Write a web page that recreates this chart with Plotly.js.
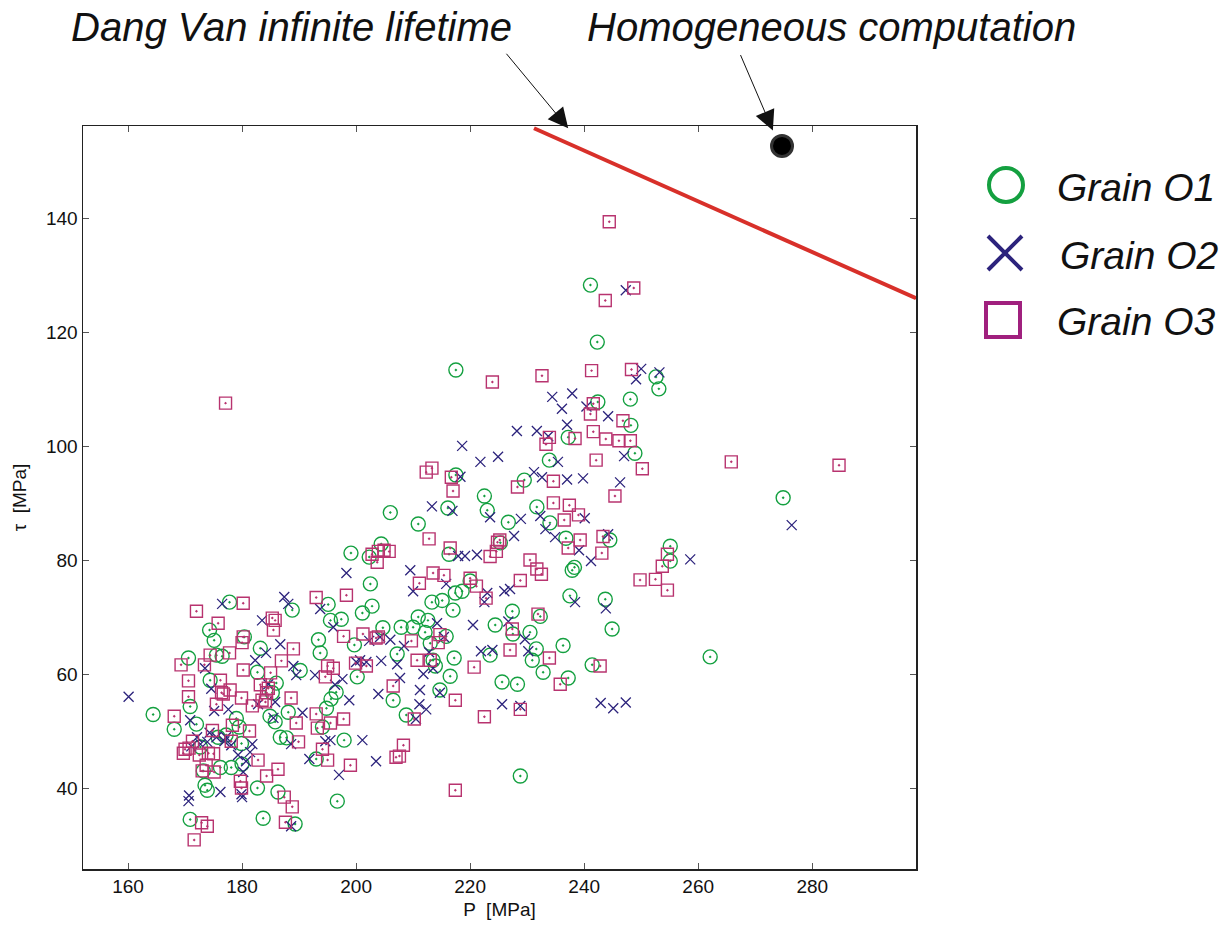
<!DOCTYPE html>
<html>
<head>
<meta charset="utf-8">
<script src="https://cdn.plot.ly/plotly-3.0.1.min.js"></script>
<style>html,body{margin:0;padding:0;background:#fff;}#chart{width:1229px;height:927px;}</style>
</head>
<body>
<div id="chart"></div>
<script>
// Grain O1 (green circles)
const o1P = [164.4,168.1,170.6,170.9,170.9,172.0,172.7,173.2,173.5,173.9,174.3,174.4,175.1,175.5,175.8,176.2,176.5,177.2,177.8,178.1,179.0,179.5,179.9,180.0,180.4,182.7,182.7,183.2,183.7,184.9,185.3,185.8,186.0,186.3,186.7,187.8,188.1,188.8,189.3,190.2,193.0,193.4,193.7,194.1,194.8,195.1,195.5,195.6,196.5,196.7,197.4,197.9,199.1,199.7,200.2,201.1,202.3,202.5,202.8,204.4,204.7,206.0,206.5,207.2,207.9,208.8,210.0,210.9,210.9,212.1,212.6,213.0,213.3,213.5,213.9,214.7,215.1,215.8,216.1,216.3,216.5,217.0,217.2,217.4,217.5,217.5,218.6,220.0,222.5,223.0,223.5,224.4,225.3,225.6,226.7,227.4,227.5,228.3,228.8,229.5,230.5,230.9,231.6,231.7,232.3,232.8,233.9,234.0,236.3,236.8,237.2,237.2,237.5,237.9,238.3,241.1,241.4,242.3,242.4,243.7,244.5,244.9,248.1,248.2,248.9,252.6,253.1,255.1,255.1,262.1,274.9];
const o1Tau = [53.0,50.4,62.9,54.4,34.6,51.3,47.3,43.1,40.6,39.7,67.8,59.0,66.0,63.4,49.0,43.7,63.2,49.4,72.7,43.7,52.3,50.8,47.9,44.3,66.6,40.1,60.4,64.6,34.8,52.7,56.8,51.7,58.5,39.4,49.0,48.9,53.4,71.3,33.8,60.7,45.2,66.1,63.8,50.8,54.1,72.3,69.5,55.7,56.9,37.8,69.7,48.5,81.3,65.2,59.6,70.8,80.6,75.9,72.0,82.9,68.2,88.4,55.5,63.6,68.3,52.9,68.3,86.4,70.1,67.4,69.5,65.5,72.7,62.5,61.5,57.3,73.0,66.7,89.2,81.1,59.7,71.3,62.9,74.3,95.0,113.4,74.6,76.4,91.3,88.8,63.4,68.7,83.1,58.7,86.7,71.1,67.1,58.3,42.2,94.1,67.4,62.5,64.5,89.4,70.2,60.4,97.6,86.6,65.1,83.9,101.6,59.4,73.8,78.3,78.8,128.3,61.7,118.3,107.8,73.2,83.6,68.0,108.3,103.7,98.8,112.2,110.1,82.5,79.9,63.1,91.0];

// Grain O2 (navy crosses)
const o2P = [160.1,170.6,170.7,170.9,171.1,172.1,172.7,173.5,173.9,174.3,174.6,175.1,175.5,176.2,176.5,176.9,177.2,177.6,178.1,179.3,179.9,180.0,180.2,180.7,181.4,181.8,182.3,182.8,183.5,184.2,184.6,185.5,185.8,186.7,187.4,188.1,188.6,188.6,189.0,189.5,190.6,191.8,192.8,193.7,194.6,195.5,196.0,196.3,197.0,197.6,198.3,198.8,200.0,200.7,201.1,201.8,202.3,203.5,203.9,204.2,204.4,206.0,207.2,207.7,208.4,209.5,210.0,210.5,211.1,211.2,211.8,212.3,212.8,213.3,213.5,214.2,214.7,215.4,215.8,216.9,217.9,218.3,218.6,219.1,220.5,221.2,221.8,221.9,222.5,223.0,223.5,223.9,224.9,225.6,226.0,226.7,227.0,227.7,228.2,228.8,228.9,229.6,230.2,231.2,231.7,232.3,232.6,233.2,233.7,234.4,234.9,235.4,236.1,237.0,237.0,237.9,238.4,239.1,239.8,240.1,240.4,241.2,242.9,243.8,244.2,244.2,245.1,246.3,247.0,247.3,247.3,249.1,250.0,253.2,258.6,276.4];
const o2Tau = [56.1,37.8,38.8,52.0,47.4,49.0,47.8,61.1,48.2,49.8,57.5,53.6,49.0,39.4,72.4,48.3,49.0,53.9,47.6,45.9,39.0,38.5,42.9,44.8,46.4,47.8,62.5,54.8,69.5,63.8,58.3,52.4,55.2,65.3,73.6,72.4,33.4,47.8,61.5,59.9,53.3,45.2,59.9,71.5,48.3,48.5,68.3,58.2,42.4,59.2,77.8,55.5,62.2,62.5,48.5,62.2,65.9,44.8,56.6,66.6,62.4,66.1,61.8,59.4,65.0,78.3,74.6,52.2,54.8,57.3,60.1,53.9,63.9,89.5,61.1,69.0,56.8,66.6,75.9,88.7,80.8,94.7,100.1,80.8,68.7,81.0,97.3,64.1,72.7,74.3,87.6,64.3,98.2,54.8,74.6,69.3,75.0,84.3,102.7,54.5,87.3,66.2,64.1,95.5,102.7,87.8,94.6,85.5,101.8,108.7,84.1,97.3,106.6,94.2,103.8,109.3,72.7,81.8,94.4,87.4,107.0,79.9,55.0,71.6,84.6,105.3,54.1,93.7,98.3,55.1,127.4,111.8,113.6,113.0,80.2,86.2];

// Grain O3 (purple squares)
const o3P = [170.6,168.1,169.3,169.7,170.0,170.6,170.7,171.3,171.6,172.0,172.5,173.0,173.4,173.7,173.9,172.9,174.1,174.4,174.8,175.0,175.1,175.5,175.8,176.2,176.4,176.7,177.1,177.8,177.9,178.1,178.3,179.7,179.9,180.2,179.9,180.0,180.2,180.2,181.3,181.8,182.8,183.2,183.5,184.1,184.3,184.3,184.6,185.0,185.3,185.5,185.8,186.3,186.9,187.4,187.6,188.6,188.8,189.0,189.5,189.9,193.0,193.0,193.2,194.1,194.6,195.0,195.0,195.5,196.0,197.8,197.8,198.3,199.0,199.9,201.2,201.8,202.8,203.5,203.7,203.9,203.9,204.9,205.8,206.5,207.0,207.6,208.3,209.7,210.2,210.7,211.1,212.3,212.8,213.0,213.3,213.5,214.4,214.7,215.4,216.5,216.7,217.0,217.4,217.4,220.0,220.7,221.1,222.5,222.8,223.5,223.9,224.6,224.8,225.2,227.0,227.4,228.3,228.8,228.8,230.5,231.7,231.9,232.5,232.6,233.3,233.9,233.9,234.6,234.6,235.8,236.5,237.2,237.4,238.4,239.0,239.3,241.1,241.6,241.6,242.1,242.8,243.1,243.3,243.8,245.4,246.1,246.8,248.3,248.1,249.8,250.2,252.5,253.7,254.6,254.6,265.8,284.7,244.4,243.7,248.7,241.3];
const o3Tau = [58.9,52.7,61.7,46.2,46.9,56.1,47.1,48.3,31.0,71.1,45.9,43.1,61.7,44.1,33.4,34.0,46.2,63.4,50.2,46.1,42.9,54.8,69.0,59.0,56.8,56.6,107.6,63.8,57.3,48.3,51.1,41.3,40.1,72.5,55.9,65.6,66.6,60.8,50.1,54.5,45.0,58.2,55.5,55.2,56.8,42.2,57.6,60.3,69.9,67.8,69.5,43.4,62.4,38.5,34.1,55.9,36.8,64.5,51.5,48.2,53.1,73.5,50.6,46.9,59.6,61.5,45.0,51.5,61.1,66.7,52.2,73.9,44.1,62.0,67.1,61.5,81.1,66.4,79.7,81.6,66.6,81.8,81.6,58.0,45.5,45.7,47.6,65.9,52.2,62.5,76.0,95.5,83.8,62.5,96.2,77.8,65.6,67.0,77.4,82.2,94.6,92.2,55.5,39.7,76.9,61.3,75.5,52.6,73.4,80.7,111.3,81.6,83.2,83.6,64.3,68.0,92.9,76.5,53.9,80.1,78.5,70.6,77.6,112.4,100.4,101.6,62.9,90.1,93.9,58.3,87.1,82.2,89.7,101.4,88.0,83.6,105.7,102.6,107.5,97.6,61.5,81.3,84.2,101.3,91.3,101.0,104.5,113.5,101.0,76.6,96.1,76.7,79.0,81.1,74.8,97.3,96.7,139.4,125.6,127.8,113.3];

// Dang Van infinite lifetime line and homogeneous computation
const dangVanP = [231.2, 298.2];
const dangVanTau = [155.8, 126.0];
const homP = [274.7];
const homTau = [152.7];

const xTicks = [160,180,200,220,240,260,280];
const yTicks = [40,60,80,100,120,140];

const cGreen = '#14a040', cNavy = '#2c237c', cPurple = '#b8336f';

const traces = [
  {x:o1P, y:o1Tau, type:'scatter', mode:'markers', name:'Grain O1',
   marker:{symbol:'circle-open-dot', size:14, color:cGreen, line:{width:1.4, color:cGreen}}},
  {x:o2P, y:o2Tau, type:'scatter', mode:'markers', name:'Grain O2',
   marker:{symbol:'x-thin-open', size:10, color:cNavy, line:{width:1.3, color:cNavy}}},
  {x:o3P, y:o3Tau, type:'scatter', mode:'markers', name:'Grain O3',
   marker:{symbol:'square-open-dot', size:12, color:cPurple, line:{width:1.4, color:cPurple}}},
  {x:dangVanP, y:dangVanTau, type:'scatter', mode:'lines', name:'Dang Van',
   line:{color:'#d8302a', width:4}},
  {x:homP, y:homTau, type:'scatter', mode:'markers', name:'Homogeneous',
   marker:{symbol:'circle', size:21, color:'#000', line:{width:3, color:'#333'}}}
];

const fontFam = 'Liberation Sans, Arial, Helvetica, sans-serif';
const L = 83, R = 916, T = 126, B = 869;
const px = v => (v - L) / (R - L);
const py = v => (B - v) / (B - T);

const legendItems = [
  {name:'Grain O1', ty:188, tx:1055},
  {name:'Grain O2', ty:255, tx:1058},
  {name:'Grain O3', ty:321, tx:1055}
];

const shapes = [
  {type:'circle', xref:'paper', yref:'paper', xsizemode:'pixel', ysizemode:'pixel',
   xanchor:px(1006), yanchor:py(185), x0:-17, x1:17, y0:-17, y1:17,
   line:{color:cGreen, width:4}},
  {type:'path', xref:'paper', yref:'paper', xsizemode:'pixel', ysizemode:'pixel',
   xanchor:px(1005), yanchor:py(253), path:'M-17,-17L17,17M-17,17L17,-17',
   line:{color:cNavy, width:4}},
  {type:'rect', xref:'paper', yref:'paper', xsizemode:'pixel', ysizemode:'pixel',
   xanchor:px(1003), yanchor:py(320), x0:-17, x1:17, y0:-17, y1:17,
   line:{color:'#a0207e', width:4}}
];

const annotations = [
  {text:'Dang Van infinite lifetime', xref:'paper', yref:'paper', x:px(291), y:py(27),
   xanchor:'center', yanchor:'middle',
   showarrow:false, font:{family:fontFam, size:40, color:'#111', style:'italic'}},
  {text:'Homogeneous computation', xref:'paper', yref:'paper', x:px(831), y:py(27),
   xanchor:'center', yanchor:'middle',
   showarrow:false, font:{family:fontFam, size:40, color:'#111', style:'italic'}},
  {text:'', x:237.2, y:155.8, xref:'x', yref:'y', ax:-63, ay:-76, showarrow:true,
   arrowhead:2, arrowsize:4, arrowwidth:1, arrowcolor:'#111', standoff:0},
  {text:'', x:273.1, y:155.4, xref:'x', yref:'y', ax:-33, ay:-77, showarrow:true,
   arrowhead:2, arrowsize:4, arrowwidth:1, arrowcolor:'#111', standoff:0}
];
legendItems.forEach(it => annotations.push({
  text:it.name, xref:'paper', yref:'paper', x:px(it.tx), y:py(it.ty), xanchor:'left', yanchor:'middle',
  showarrow:false, font:{family:fontFam, size:39, color:'#111', style:'italic'}
}));

const layout = {
  width:1229, height:927,
  margin:{l:L, r:1229-R, t:T, b:927-B, pad:0},
  paper_bgcolor:'#fff', plot_bgcolor:'#fff',
  showlegend:false,
  font:{family:fontFam, color:'#111'},
  xaxis:{range:[152.1,298.2], tickvals:xTicks, ticktext:xTicks.map(String),
    ticks:'inside', ticklen:6, tickcolor:'#555', tickwidth:1,
    showline:true, linecolor:'#222', linewidth:1.5, mirror:'ticks',
    showgrid:false, zeroline:false, tickfont:{size:19, family:fontFam, color:'#111'},
    title:{text:'P  [MPa]', font:{size:19, family:fontFam, color:'#111'}, standoff:6}},
  yaxis:{range:[25.9,156.2], tickvals:yTicks, ticktext:yTicks.map(String),
    ticks:'inside', ticklen:6, tickcolor:'#555', tickwidth:1,
    showline:true, linecolor:'#222', linewidth:1.5, mirror:'ticks',
    showgrid:false, zeroline:false, tickfont:{size:19, family:fontFam, color:'#111'},
    title:{text:'τ  [MPa]', font:{size:19, family:fontFam, color:'#111'}, standoff:14}},
  shapes:shapes,
  annotations:annotations
};

Plotly.newPlot('chart', traces, layout, {displayModeBar:false, staticPlot:true});
</script>
</body>
</html>
